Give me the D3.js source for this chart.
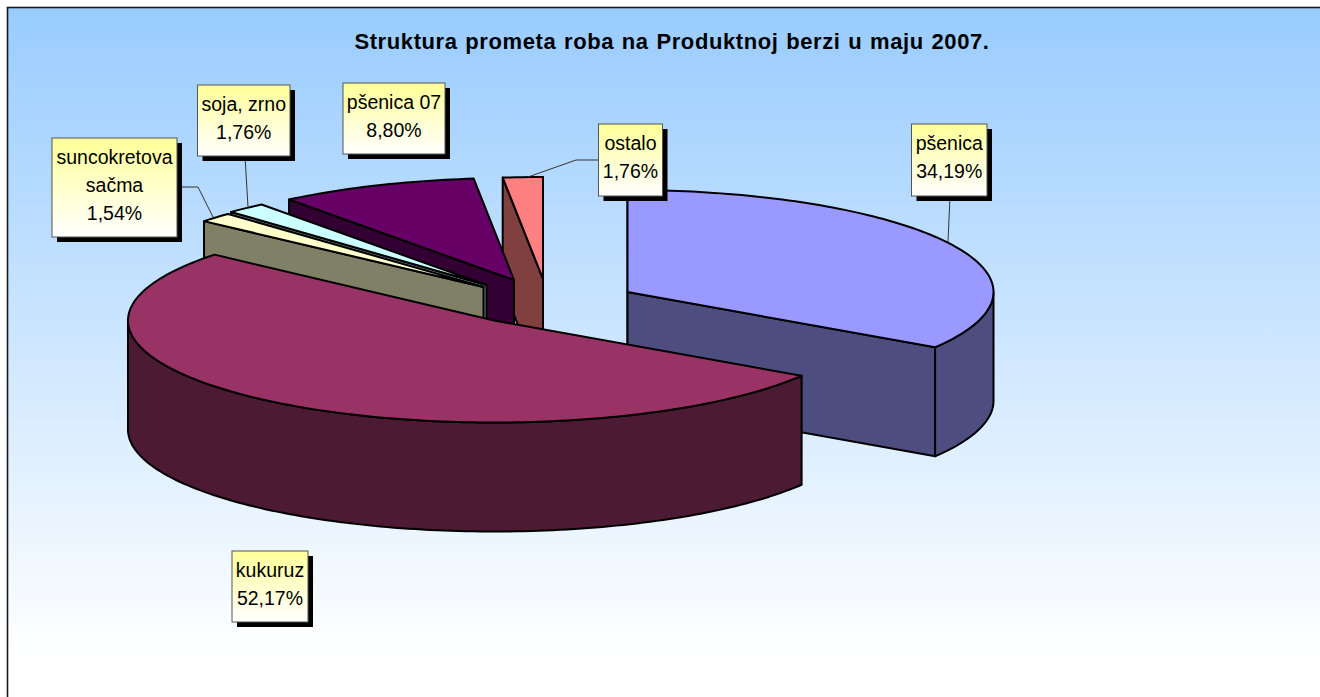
<!DOCTYPE html>
<html>
<head>
<meta charset="utf-8">
<script src="https://cdn.jsdelivr.net/npm/d3@7"></script>
<style>
  html, body { margin: 0; padding: 0; background: #fff; overflow: hidden; }
  text { font-family: "Liberation Sans", Arial, sans-serif; fill: #000; }
</style>
</head>
<body>
<div id="chartArea"></div>
<script>
// values, clockwise from 12 o'clock
const categories = ['pšenica', 'kukuruz', 'suncokretova sačma', 'soja, zrno', 'pšenica 07', 'ostalo']
const shares = [34.19, 52.17, 1.54, 1.76, 8.80, 1.76]
const shareLabels = ['34,19%', '52,17%', '1,54%', '1,76%', '8,80%', '1,76%']
const topColors = ['#9999FF', '#993366', '#FFFFCC', '#CCFFFF', '#660066', '#FF8080']
const titleText = 'Struktura prometa roba na Produktnoj berzi u maju 2007.'

let width = 1320
let height = 697
let rx = 366
let ry = 102
let depth = 109

// exploded slice apex positions, same order as categories
let apex = [[627.5, 292], [494, 320.5], [483.5, 287], [486.5, 285], [514, 280], [543, 279]]
// label boxes: x, y, w, h
let boxes = [[911.5, 124, 75.5, 72], [232, 551, 76, 71], [52, 138, 125, 99], [197.5, 85, 92.5, 71], [343, 83, 102, 71], [598.5, 124, 64, 72]]
let leaders = [
  [[950, 196], [948, 242]],
  null,
  [[177, 187], [198, 187], [213, 217]],
  [[245, 156], [248, 207]],
  null,
  [[598, 160], [576, 160], [528, 177]]
]
// back to front
let drawOrder = [0, 5, 4, 3, 2, 1]

let svg = d3.select('#chartArea').append('svg')
  .attr('width', width)
  .attr('height', height)
  .style('display', 'block')

let defs = svg.append('defs')

let bg = defs.append('linearGradient').attr('id', 'bgGrad')
  .attr('x1', 0).attr('y1', 0).attr('x2', 0).attr('y2', 1)
bg.append('stop').attr('offset', '0%').attr('stop-color', '#99CCFF')
bg.append('stop').attr('offset', '93%').attr('stop-color', '#FFFFFF')

let boxGrad = defs.append('linearGradient').attr('id', 'boxGrad')
  .attr('x1', 0).attr('y1', 0).attr('x2', 0).attr('y2', 1)
boxGrad.append('stop').attr('offset', '0%').attr('stop-color', '#FFFF99')
boxGrad.append('stop').attr('offset', '100%').attr('stop-color', '#FFFFFF')

svg.append('rect')
  .attr('x', 7.5).attr('y', 7.5)
  .attr('width', width).attr('height', height)
  .attr('fill', 'url(#bgGrad)')
  .attr('stroke', '#1a1a1a')
  .attr('stroke-width', 1.6)

svg.append('text')
  .attr('x', 672).attr('y', 49)
  .attr('text-anchor', 'middle')
  .style('font-size', '22px')
  .style('font-weight', 'bold')
  .style('letter-spacing', '0.6px')
  .style('word-spacing', '1px')
  .text(titleText)

let pie = d3.pie().sort(null).value(d => d)
let arcs = pie(shares)

let xScale = d3.scaleLinear().domain([-1, 1]).range([-rx, rx])
let yScale = d3.scaleLinear().domain([-1, 1]).range([-ry, ry])

let line = d3.line()
const onRim = (i, a, dy = 0) => [
  apex[i][0] + xScale(Math.sin(a)),
  apex[i][1] + yScale(-Math.cos(a)) + dy
]
const angles = (a0, a1) => {
  let n = Math.max(2, Math.ceil((a1 - a0) / 0.02))
  return d3.range(n + 1).map(k => a0 + (a1 - a0) * k / n)
}
const strokeIt = sel => sel
  .attr('stroke', '#000')
  .attr('stroke-width', 2)
  .attr('stroke-linejoin', 'round')

drawOrder.forEach(i => {
  let d = arcs[i]
  let c = apex[i]
  let g = svg.append('g').attr('class', 'slice')
  let side = d3.color(topColors[i])
  side = d3.rgb(side.r / 2, side.g / 2, side.b / 2).formatHex()

  // cut faces, only the ones turned to the viewer
  let faces = []
  if (-Math.sin(d.startAngle) > -0.001) faces.push(d.startAngle)
  if (Math.sin(d.endAngle) > -0.001) faces.push(d.endAngle)
  faces.forEach(a => {
    let p = onRim(i, a)
    let q = onRim(i, a, depth)
    g.append('path')
      .attr('d', line([c, p, q, [c[0], c[1] + depth]]) + 'Z')
      .attr('fill', side)
      .call(strokeIt)
  })

  // outer wall, only the part that faces the viewer
  let a0 = Math.max(d.startAngle, Math.PI / 2)
  let a1 = Math.min(d.endAngle, Math.PI * 3 / 2)
  if (a1 > a0) {
    let upper = angles(a0, a1).map(a => onRim(i, a))
    let lower = angles(a0, a1).reverse().map(a => onRim(i, a, depth))
    g.append('path')
      .attr('d', line(upper.concat(lower)) + 'Z')
      .attr('fill', side)
      .call(strokeIt)
  }

  // top
  let rim = angles(d.startAngle, d.endAngle).map(a => onRim(i, a))
  g.append('path')
    .attr('d', line([c].concat(rim)) + 'Z')
    .attr('fill', topColors[i])
    .call(strokeIt)
})

// leader lines
leaders.forEach(pts => {
  if (!pts) return
  svg.append('path')
    .attr('d', line(pts))
    .attr('fill', 'none')
    .attr('stroke', '#333')
    .attr('stroke-width', 1)
})

// data labels
categories.forEach((name, i) => {
  let [x, y, w, h] = boxes[i]
  let g = svg.append('g').attr('class', 'label')
  g.append('rect')
    .attr('x', x + 5).attr('y', y + 5)
    .attr('width', w).attr('height', h)
    .attr('fill', '#000')
  g.append('rect')
    .attr('x', x).attr('y', y)
    .attr('width', w).attr('height', h)
    .attr('fill', 'url(#boxGrad)')
    .attr('stroke', '#555')
    .attr('stroke-width', 1)
  let rows = name === 'suncokretova sačma' ? ['suncokretova', 'sačma'] : [name]
  rows = rows.concat(shareLabels[i])
  rows.forEach((t, k) => {
    g.append('text')
      .attr('x', x + w / 2)
      .attr('y', y + 26 + k * 28)
      .attr('text-anchor', 'middle')
      .style('font-size', '19.5px')
      .text(t)
  })
})
</script>
</body>
</html>
